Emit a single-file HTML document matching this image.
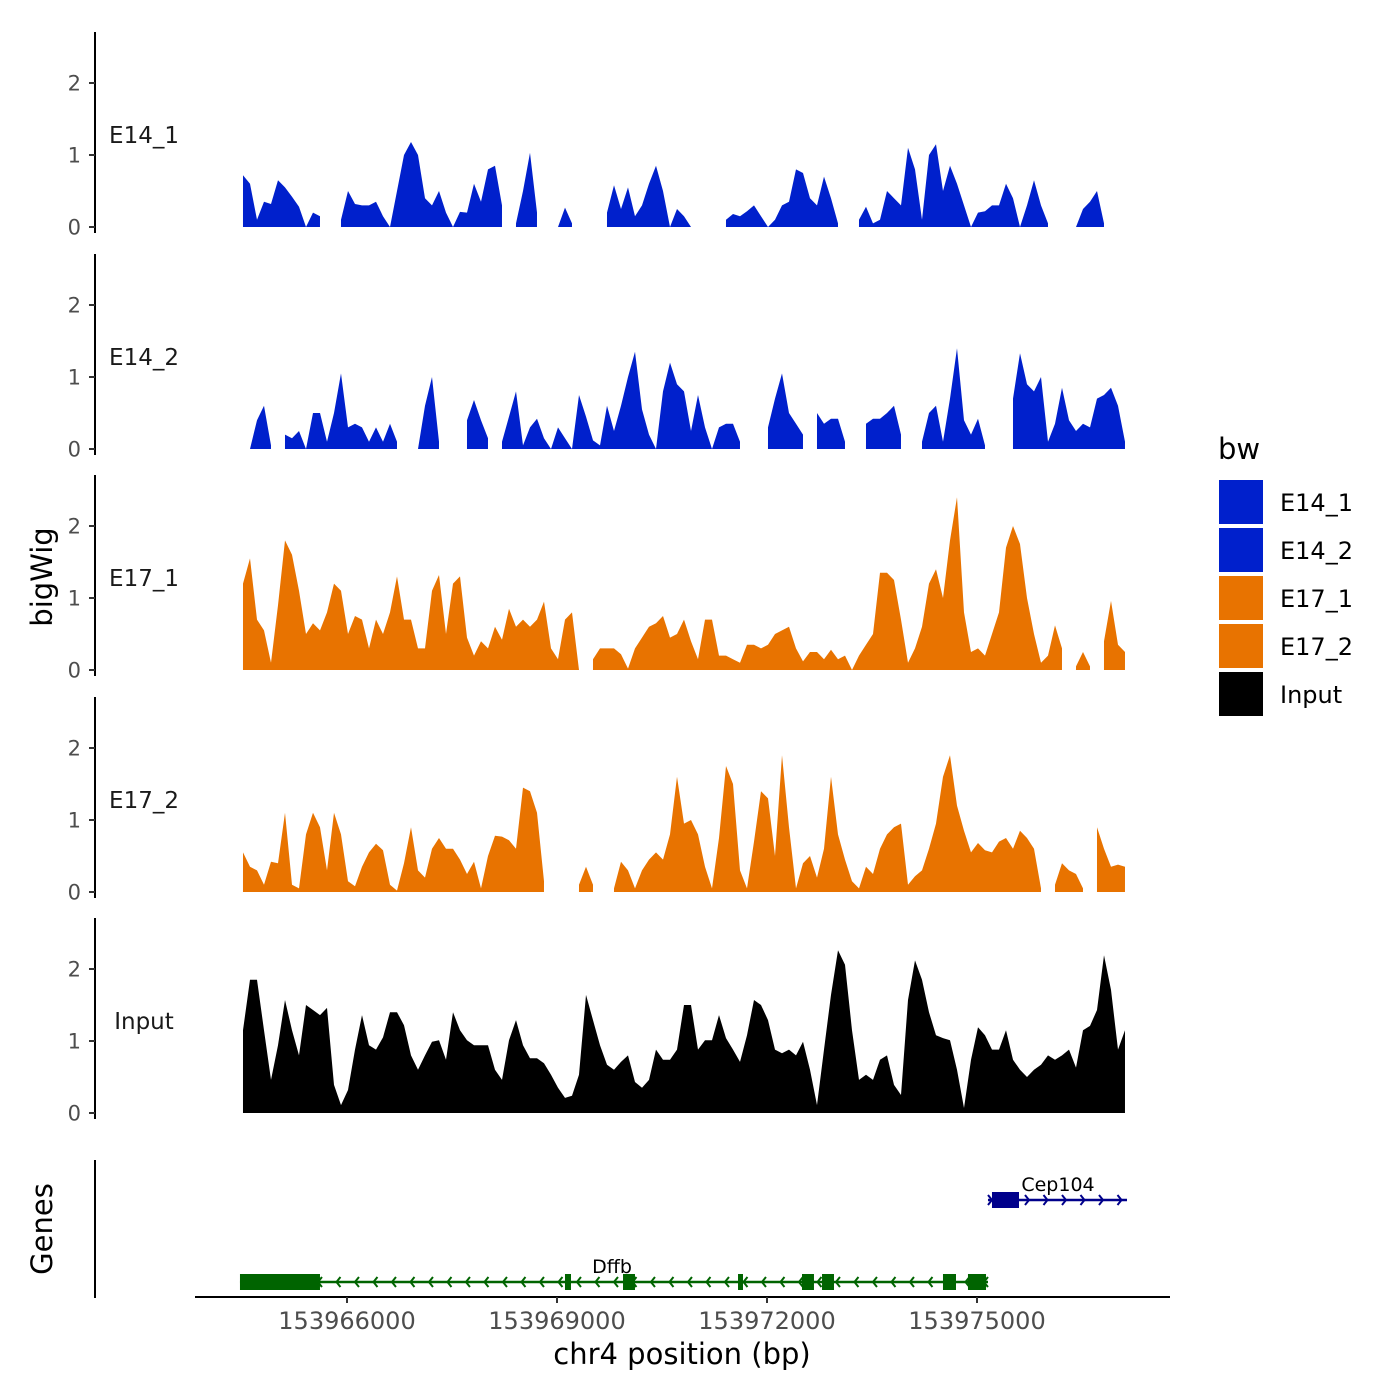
<!DOCTYPE html>
<html><head><meta charset="utf-8"><style>
html,body{margin:0;padding:0;background:#fff;}
svg{display:block;font-family:"DejaVu Sans","Liberation Sans",sans-serif;}
</style></head><body>
<svg id="chart" width="1400" height="1400" viewBox="0 0 1400 1400" xmlns="http://www.w3.org/2000/svg">
<g id="tracks"></g>
<g id="genes"></g>
<g id="xaxis"></g>
<text transform="translate(52,577) rotate(-90)" text-anchor="middle" font-size="29" fill="#000">bigWig</text>
<text transform="translate(52,1229) rotate(-90)" text-anchor="middle" font-size="29" fill="#000">Genes</text>
<text x="682" y="1364" text-anchor="middle" font-size="29" fill="#000">chr4 position (bp)</text>
<g id="legend"></g>
</svg>
<script>
const startBp = 153964514;
const stepBp = 100;
const trackNames = ["E14_1","E14_2","E17_1","E17_2","Input"];
const trackColors = ["#0020CC","#0020CC","#E87300","#E87300","#000000"];
const yTicks = [0,1,2];
const xTicks = [153966000,153969000,153972000,153975000];
const xTickLabels = ["153966000","153969000","153972000","153975000"];
const n = null;
const e14_1 = [0.72,0.6,0.1,0.35,0.32,0.65,0.55,0.42,0.28,0,0.2,0.15,n,n,0.1,0.5,0.32,0.3,0.3,0.35,0.15,0,0.5,1.0,1.18,1.0,0.4,0.3,0.5,0.2,0,0.21,0.2,0.6,0.35,0.8,0.85,0.3,n,0.05,0.5,1.03,0.2,n,n,0,0.27,0.05,n,n,n,n,0.2,0.58,0.25,0.55,0.15,0.3,0.6,0.85,0.5,0,0.25,0.15,0,n,n,n,n,0.1,0.18,0.15,0.22,0.3,0.15,0,0.1,0.3,0.35,0.8,0.75,0.4,0.3,0.7,0.4,0.05,n,n,0.1,0.28,0.05,0.1,0.5,0.4,0.3,1.1,0.8,0.1,1.0,1.15,0.5,0.85,0.6,0.3,0,0.2,0.22,0.3,0.3,0.6,0.4,0,0.3,0.65,0.3,0.05,n,n,n,0,0.25,0.35,0.5,0.05,n,n,0.2];
const e14_2 = [n,0,0.4,0.6,0.05,n,0.2,0.15,0.25,0,0.5,0.5,0.1,0.5,1.05,0.3,0.35,0.3,0.1,0.3,0.1,0.35,0.1,n,n,0,0.6,1.0,0.1,n,n,n,0.4,0.68,0.4,0.15,n,0.1,0.45,0.8,0.05,0.3,0.42,0.15,0,0.3,0.15,0,0.75,0.45,0.12,0.05,0.6,0.25,0.6,1.0,1.35,0.55,0.2,0,0.8,1.2,0.9,0.8,0.25,0.75,0.3,0,0.3,0.35,0.35,0.1,n,n,n,0.3,0.7,1.05,0.5,0.35,0.2,n,0.5,0.35,0.42,0.42,0.1,n,n,0.35,0.42,0.42,0.5,0.6,0.2,n,n,0.1,0.5,0.6,0.1,0.7,1.4,0.4,0.2,0.42,0.05,n,n,n,0.7,1.33,0.9,0.8,1.0,0.1,0.35,0.85,0.4,0.25,0.35,0.3,0.7,0.75,0.85,0.6,0.1];
const e17_1 = [1.2,1.55,0.7,0.55,0.1,0.9,1.8,1.6,1.1,0.5,0.65,0.55,0.8,1.2,1.1,0.5,0.75,0.7,0.3,0.7,0.5,0.8,1.3,0.7,0.7,0.3,0.3,1.1,1.32,0.5,1.2,1.3,0.45,0.2,0.4,0.3,0.6,0.42,0.85,0.6,0.7,0.6,0.7,0.95,0.3,0.15,0.7,0.8,0,n,0.15,0.3,0.3,0.3,0.22,0.02,0.3,0.45,0.6,0.65,0.75,0.45,0.5,0.7,0.4,0.15,0.7,0.7,0.2,0.2,0.15,0.1,0.35,0.35,0.3,0.35,0.5,0.55,0.6,0.3,0.12,0.25,0.25,0.15,0.28,0.15,0.2,0,0.2,0.35,0.5,1.35,1.35,1.25,0.7,0.1,0.3,0.6,1.2,1.4,1.0,1.8,2.4,0.8,0.25,0.3,0.2,0.5,0.8,1.7,2.0,1.75,1.0,0.5,0.1,0.2,0.62,0.3,n,0.05,0.25,0.05,n,0.4,0.96,0.35,0.25];
const e17_2 = [0.55,0.35,0.3,0.1,0.42,0.4,1.1,0.1,0.05,0.8,1.1,0.9,0.3,1.1,0.8,0.15,0.08,0.35,0.55,0.67,0.58,0.1,0.02,0.4,0.9,0.3,0.2,0.6,0.75,0.6,0.6,0.45,0.25,0.42,0.05,0.5,0.78,0.77,0.72,0.6,1.45,1.4,1.1,0.15,n,n,n,n,0.1,0.35,0.1,n,n,0.05,0.42,0.3,0.05,0.3,0.45,0.55,0.45,0.8,1.6,0.95,1.0,0.8,0.35,0.05,0.75,1.75,1.5,0.3,0.05,0.7,1.4,1.3,0.5,1.9,0.9,0.05,0.4,0.5,0.2,0.6,1.6,0.8,0.45,0.15,0.05,0.35,0.25,0.6,0.8,0.9,0.95,0.1,0.22,0.3,0.6,0.95,1.6,1.9,1.2,0.85,0.55,0.68,0.58,0.55,0.7,0.75,0.6,0.85,0.75,0.6,0.05,n,0.1,0.4,0.3,0.25,0.05,n,0.9,0.6,0.35,0.38,0.35];
const input = [1.15,1.85,1.85,1.15,0.46,0.94,1.57,1.15,0.8,1.5,1.43,1.36,1.46,0.39,0.11,0.32,0.88,1.36,0.94,0.88,1.05,1.4,1.4,1.22,0.8,0.6,0.8,0.99,1.01,0.74,1.4,1.15,1.01,0.94,0.94,0.94,0.6,0.46,1.01,1.29,0.94,0.76,0.76,0.69,0.53,0.35,0.21,0.24,0.53,1.64,1.29,0.94,0.67,0.6,0.71,0.8,0.43,0.35,0.46,0.88,0.74,0.74,0.88,1.5,1.5,0.88,1.01,1.01,1.36,1.04,0.88,0.71,1.08,1.57,1.5,1.29,0.88,0.83,0.88,0.8,0.99,0.6,0.11,0.88,1.64,2.26,2.06,1.15,0.46,0.53,0.46,0.74,0.8,0.39,0.25,1.57,2.12,1.85,1.4,1.08,1.04,1.01,0.6,0.07,0.74,1.19,1.08,0.88,0.88,1.15,0.74,0.6,0.5,0.6,0.67,0.8,0.74,0.8,0.88,0.63,1.15,1.21,1.43,2.19,1.71,0.88,1.15];
const trackValues = [e14_1,e14_2,e17_1,e17_2,input];
// genes
const geneNames = ["Dffb","Cep104"];
const geneStarts = [153964471, 153975157];
const geneEnds = [153975157, 153977143];
const geneStrands = ["-","+"];
const geneColors = ["#006400","#00008B"];
const dffbExonStarts = [153964471,153969114,153969943,153971586,153972500,153972786,153974514,153974871];
const dffbExonEnds = [153965614,153969200,153970114,153971657,153972671,153972957,153974700,153975129];
const cepExonStarts = [153975214];
const cepExonEnds = [153975600];

const NS="http://www.w3.org/2000/svg";
function mk(tag, attrs, parent){const e=document.createElementNS(NS,tag);for(const k in attrs)e.setAttribute(k,attrs[k]);parent.appendChild(e);return e;}
const xScale = bp => 347 + (bp - 153966000) * 0.07;
const panelZero = [227, 449, 670, 892, 1113];
const yPerUnit = 72;
const tracksG = document.getElementById('tracks');

trackNames.forEach((name, t) => {
  const z = panelZero[t];
  const yScale = v => z - v * yPerUnit;
  const g = mk('g', {}, tracksG);
  
  
  const ax = mk('line', {x1:95, x2:95, y1:z-195, y2:z+6, stroke:'#000', 'stroke-width':2}, g);
  
  
  yTicks.forEach(tv => {
    const tk = mk('line', {x1:89, x2:95, y1:yScale(tv), y2:yScale(tv), stroke:'#333', 'stroke-width':2}, g);
    
    
    const tl = mk('text', {x:81, y:yScale(tv)+7.5, 'text-anchor':'end', 'font-size':21, fill:'#4d4d4d'}, g);
    tl.textContent = tv;
    
    
  });
  const lbl = mk('text', {x:144, y:z-84, 'text-anchor':'middle', 'font-size':23, fill:'#1a1a1a'}, g);
  lbl.textContent = name;
  
  
  const vals = trackValues[t];
  let seg = [];
  const flush = () => {
    if (seg.length) {
      let d = 'M' + seg[0][0] + ',' + z;
      seg.forEach(p => { d += 'L' + p[0].toFixed(1) + ',' + p[1].toFixed(1); });
      d += 'L' + seg[seg.length-1][0] + ',' + z + 'Z';
      const p = mk('path', {d:d, fill:trackColors[t]}, g);
      
      
    }
    seg = [];
  };
  vals.forEach((v, i) => {
    if (v === null) { flush(); return; }
    seg.push([xScale(startBp + i * stepBp), yScale(v)]);
  });
  flush();
});

// genes panel
const gg = document.getElementById('genes');
const gax = mk('line', {x1:95, x2:95, y1:1160, y2:1298, stroke:'#000', 'stroke-width':2}, gg);


const geneY = [1282, 1200];
const exonSets = [[dffbExonStarts, dffbExonEnds],[cepExonStarts, cepExonEnds]];
geneNames.forEach((gn, k) => {
  const g = mk('g', {}, gg);
  
  
  const y = geneY[k], c = geneColors[k];
  const x1 = xScale(geneStarts[k]), x2 = xScale(geneEnds[k]);
  const ln = mk('line', {x1:x1, x2:x2, y1:y, y2:y, stroke:c, 'stroke-width':2.5}, g);
  
  
  for (let x = x1 + 4; x < x2 + 1; x += 18.5) {
    const dir = geneStrands[k] === '-' ? 1 : -1;
    const ar = mk('polyline', {points:(x+dir*4)+','+(y-5)+' '+x+','+y+' '+(x+dir*4)+','+(y+5), fill:'none', stroke:c, 'stroke-width':2}, g);
    
    
  }
  const [es, ee] = exonSets[k];
  es.forEach((s, j) => {
    const ex = mk('rect', {x:xScale(s), y:y-8, width:xScale(ee[j])-xScale(s), height:16, fill:c}, g);
    
    
  });
  const tx = mk('text', {x: k===0 ? 612 : 1058, y: y-9, 'text-anchor':'middle', 'font-size':19, fill:'#000'}, g);
  tx.textContent = gn;
  
  
});

// x axis
const xg = document.getElementById('xaxis');
const xl = mk('line', {x1:195, x2:1170, y1:1297, y2:1297, stroke:'#000', 'stroke-width':2}, xg);


xTicks.forEach((bp, i) => {
  const x = xScale(bp);
  const tk = mk('line', {x1:x, x2:x, y1:1297, y2:1303, stroke:'#333', 'stroke-width':2}, xg);
  
  
  const tl = mk('text', {x:x, y:1329, 'text-anchor':'middle', 'font-size':24, fill:'#4d4d4d'}, xg);
  tl.textContent = xTickLabels[i];
  
  
});

// legend
const lg = document.getElementById('legend');
const lt = mk('text', {x:1218, y:459, 'font-size':29, fill:'#000'}, lg);
lt.textContent = 'bw';


trackNames.forEach((name, i) => {
  const y = 480 + i * 48;
  const g = mk('g', {}, lg);
  
  
  const r = mk('rect', {x:1219, y:y, width:44, height:44, fill:trackColors[i]}, g);
  
  
  const t = mk('text', {x:1280, y:y+31, 'font-size':24, fill:'#000'}, g);
  t.textContent = name;
  
  
});
</script>
</body></html>
